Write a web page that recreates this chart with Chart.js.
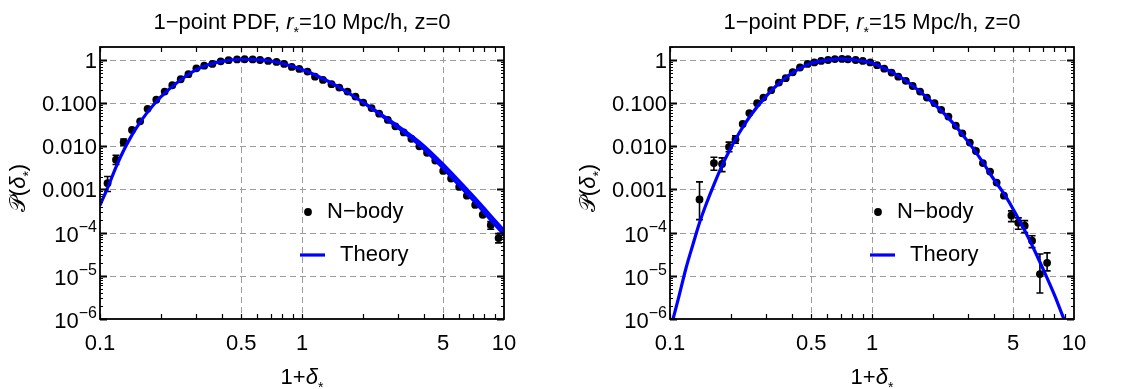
<!DOCTYPE html>
<html>
<head>
<meta charset="utf-8">
<script src="https://cdn.jsdelivr.net/npm/chart.js@4.4.0/dist/chart.umd.min.js"></script>
<style>
  body { margin: 0; background: #fff; }
  .row { display: flex; width: 1140px; height: 389px; }
  .cell { width: 570px; height: 389px; }
</style>
</head>
<body>
<div class="row">
  <div class="cell"><canvas id="pdf10" width="570" height="389"></canvas></div>
  <div class="cell"><canvas id="pdf15" width="570" height="389"></canvas></div>
</div>
<script>
// axes
const xTickVals = [0.1, 0.5, 1, 5, 10];
const xTickLabels = ['0.1', '0.5', '1', '5', '10'];
const yTickVals = [1e-6, 1e-5, 1e-4, 1e-3, 1e-2, 1e-1, 1];
const yTickLabels = [['10', '−6'], ['10', '−5'], ['10', '−4'], ['0.001'], ['0.010'], ['0.100'], ['1']];
const gridX = [0.5, 1, 5];
const gridY = [1e-5, 1e-4, 1e-3, 1e-2, 1e-1, 1];

// r* = 10 Mpc/h : N-body measurement
const nbX10 = [0.109, 0.120, 0.131, 0.144, 0.158, 0.172, 0.190, 0.209, 0.228, 0.251,
  0.274, 0.300, 0.328, 0.360, 0.396, 0.433, 0.477, 0.52, 0.57, 0.62,
  0.68, 0.748, 0.816, 0.89, 0.97, 1.065, 1.16, 1.27, 1.40, 1.53,
  1.68, 1.84, 2.01, 2.21, 2.41, 2.66, 2.90, 3.19, 3.48, 3.81,
  4.16, 4.57, 5.0, 5.47, 6.0, 6.55, 7.2, 7.85, 8.6, 9.4];
const nbY10 = [1.4e-3, 4.9e-3, 0.0125, 0.024, 0.038, 0.074, 0.12, 0.186, 0.26, 0.358,
  0.47, 0.64, 0.74, 0.81, 0.93, 0.99, 1.03, 1.04, 1.03, 1.0,
  0.95, 0.9, 0.81, 0.69, 0.62, 0.54, 0.41, 0.345, 0.275, 0.23,
  0.186, 0.142, 0.103, 0.077, 0.057, 0.041, 0.029, 0.021, 0.015, 0.010,
  0.0071, 0.0047, 0.0027, 0.0018, 0.00115, 0.00072, 0.00044, 0.00026, 0.00015, 0.000075];
// error bars [low, high], null where hidden by the marker
const nbErr10 = [[0.9e-3, 2.0e-3], [3.8e-3, 6.2e-3], [0.0105, 0.0148], null, null, null, null, null, null, null,
  null, null, null, null, null, null, null, null, null, null,
  null, null, null, null, null, null, null, null, null, null,
  null, null, null, null, null, null, null, null, null, null,
  null, null, null, null, null, null, null, null, [1.2e-4, 1.8e-4], [5.8e-5, 9.5e-5]];

// r* = 10 Mpc/h : theory
const thX10 = [0.1, 0.11, 0.12, 0.13, 0.14, 0.15, 0.17, 0.2, 0.25, 0.3,
  0.35, 0.4, 0.5, 0.6, 0.7, 0.8, 1.0, 1.2, 1.5, 2.0,
  2.5, 3.0, 4.0, 5.0, 6.0, 7.0, 8.0, 9.0, 10];
const thY10 = [4.3e-4, 1.2e-3, 3.3e-3, 7.5e-3, 0.0145, 0.025, 0.058, 0.14, 0.345, 0.6,
  0.8, 0.93, 1.04, 1.02, 0.95, 0.83, 0.6, 0.42, 0.245, 0.105,
  0.05, 0.0265, 0.0088, 0.0031, 0.00125, 0.00058, 0.00029, 0.000155, 0.00009];
const thBX10 = [2.0, 3.0, 4.0, 5.0, 6.0, 7.0, 8.0, 9.0, 10];
const thBY10 = [0.106, 0.029, 0.0104, 0.0038, 0.00156, 0.00072, 0.00036, 0.000193, 0.000112];

// r* = 15 Mpc/h : N-body measurement
const nbX15 = [0.140, 0.165, 0.181, 0.196, 0.211, 0.229, 0.247, 0.27, 0.29, 0.317,
  0.346, 0.374, 0.405, 0.44, 0.48, 0.518, 0.56, 0.606, 0.655, 0.71,
  0.76, 0.83, 0.90, 0.98, 1.06, 1.15, 1.25, 1.35, 1.47, 1.59,
  1.73, 1.87, 2.04, 2.20, 2.39, 2.60, 2.80, 3.05, 3.27, 3.54,
  3.84, 4.14, 4.5, 4.9, 5.3, 5.7, 6.2, 6.78, 7.36];
const nbY15 = [5.9e-4, 4.1e-3, 3.9e-3, 0.0097, 0.0145, 0.033, 0.059, 0.10, 0.135, 0.2,
  0.30, 0.38, 0.52, 0.67, 0.81, 0.88, 0.95, 1.0, 1.05, 1.06,
  1.04, 1.0, 0.95, 0.88, 0.76, 0.63, 0.51, 0.41, 0.33, 0.25,
  0.186, 0.135, 0.10, 0.07, 0.049, 0.03, 0.02, 0.0122, 0.0078, 0.0041,
  0.0026, 0.00145, 0.00072, 0.00025, 0.00017, 0.000145, 0.000065, 0.000011, 0.00002];
const nbErr15 = [[2.0e-4, 1.5e-3], [2.8e-3, 5.6e-3], [2.6e-3, 5.4e-3], [7.5e-3, 0.0125], [0.0118, 0.0175], null, null, null, null, null,
  null, null, null, null, null, null, null, null, null, null,
  null, null, null, null, null, null, null, null, null, null,
  null, null, null, null, null, null, null, null, null, null,
  null, null, null, [1.8e-4, 3.2e-4], [1.2e-4, 2.2e-4], [1.0e-4, 1.9e-4], [4.5e-5, 8.5e-5], [4e-6, 3.2e-5], [1.3e-5, 3.4e-5]];

// r* = 15 Mpc/h : theory
const thX15 = [0.1, 0.11, 0.12, 0.13, 0.14, 0.15, 0.165, 0.18, 0.2, 0.22,
  0.25, 0.3, 0.35, 0.4, 0.5, 0.6, 0.7, 0.8, 0.9, 1.0,
  1.2, 1.5, 2.0, 2.5, 3.0, 3.5, 4.0, 4.5, 5.0, 5.5,
  6.0, 6.5, 7.0, 8.0, 9.0, 9.5];
const thY15 = [5.4e-7, 2.95e-6, 1.5e-5, 5.4e-5, 1.7e-4, 4.2e-4, 1.3e-3, 3.4e-3, 9.2e-3, 0.0204,
  0.051, 0.147, 0.3, 0.49, 0.84, 0.99, 1.06, 1.02, 0.95, 0.85,
  0.58, 0.31, 0.102, 0.036, 0.0125, 0.0046, 0.00175, 0.0008, 0.00035, 0.000155,
  0.00007, 0.000032, 0.000015, 3.6e-6, 9e-7, 5.2e-7];

const FONT = '"Liberation Sans", Arial, sans-serif';
const BLUE = '#0000ff';

Chart.defaults.font.family = FONT;
Chart.defaults.color = '#000';

function pts(xs, ys) {
  return xs.map((x, i) => ({ x: x, y: ys[i] }));
}

// text with italic / subscript pieces
function richWidth(ctx, segs) {
  let w = 0;
  segs.forEach(s => {
    ctx.font = (s.it ? 'italic ' : '') + (s.size || 22) + 'px ' + FONT;
    w += ctx.measureText(s.t).width;
  });
  return w;
}
function drawRich(ctx, segs, x, y) {
  let cx = x - richWidth(ctx, segs) / 2;
  ctx.textAlign = 'left';
  ctx.textBaseline = 'alphabetic';
  segs.forEach(s => {
    ctx.font = (s.it ? 'italic ' : '') + (s.size || 22) + 'px ' + FONT;
    ctx.fillText(s.t, cx, y + (s.dy || 0));
    cx += ctx.measureText(s.t).width;
  });
}

function makePanel(id, rLabel, nbX, nbY, nbErr, theories) {
  const titleSegs = [{ t: '1−point PDF, ' }, { t: 'r', it: true }, { t: '*', size: 14, dy: 8 },
    { t: '=' + rLabel + ' Mpc/h, z=0' }];
  const xTitle = [{ t: '1+' }, { t: 'δ', it: true }, { t: '*', size: 14, dy: 8 }];
  const yTitle = [{ t: '𝒫' }, { t: '(' }, { t: 'δ', it: true }, { t: '*', size: 14, dy: 8 }, { t: ')' }];

  const decor = {
    id: 'decor',
    beforeDatasetsDraw(chart) {
      const { ctx, chartArea: a, scales: { x, y } } = chart;
      ctx.save();
      // dashed grid
      ctx.strokeStyle = '#9c9c9c';
      ctx.lineWidth = 1;
      ctx.setLineDash([6, 4]);
      ctx.beginPath();
      gridX.forEach(v => {
        const px = Math.round(x.getPixelForValue(v)) + 0.5;
        ctx.moveTo(px, a.top); ctx.lineTo(px, a.bottom);
      });
      gridY.forEach(v => {
        const py = Math.round(y.getPixelForValue(v)) + 0.5;
        ctx.moveTo(a.left, py); ctx.lineTo(a.right, py);
      });
      ctx.stroke();
      ctx.setLineDash([]);
      // error bars
      ctx.beginPath();
      ctx.rect(a.left, a.top, a.right - a.left, a.bottom - a.top);
      ctx.clip();
      ctx.strokeStyle = '#000';
      ctx.lineWidth = 1.6;
      ctx.beginPath();
      nbErr.forEach((e, i) => {
        if (!e) return;
        const px = x.getPixelForValue(nbX[i]);
        const lo = y.getPixelForValue(e[0]);
        const hi = y.getPixelForValue(e[1]);
        ctx.moveTo(px, lo); ctx.lineTo(px, hi);
        ctx.moveTo(px - 3.5, lo); ctx.lineTo(px + 3.5, lo);
        ctx.moveTo(px - 3.5, hi); ctx.lineTo(px + 3.5, hi);
      });
      ctx.stroke();
      ctx.restore();
    },
    afterDraw(chart) {
      const { ctx, chartArea: a, scales: { x, y } } = chart;
      ctx.save();
      ctx.strokeStyle = '#000';
      // tick marks, pointing inward on all four sides
      ctx.lineWidth = 1.2;
      ctx.beginPath();
      [0.1, 1].forEach(d => {
        for (let k = 1; k <= 9; k++) {
          const px = Math.round(x.getPixelForValue(d * k)) + 0.5;
          ctx.moveTo(px, a.bottom); ctx.lineTo(px, a.bottom - 5);
          ctx.moveTo(px, a.top); ctx.lineTo(px, a.top + 5);
        }
      });
      for (let e = -6; e <= 0; e++) {
        for (let k = 2; k <= 9; k++) {
          const v = k * Math.pow(10, e);
          if (v > 2) continue;
          const py = Math.round(y.getPixelForValue(v)) + 0.5;
          ctx.moveTo(a.left, py); ctx.lineTo(a.left + 3, py);
          ctx.moveTo(a.right, py); ctx.lineTo(a.right - 3, py);
        }
      }
      ctx.stroke();
      ctx.lineWidth = 2.2;
      ctx.beginPath();
      yTickVals.forEach(v => {
        const py = Math.round(y.getPixelForValue(v)) + 0.5;
        ctx.moveTo(a.left, py); ctx.lineTo(a.left + 7, py);
        ctx.moveTo(a.right, py); ctx.lineTo(a.right - 7, py);
      });
      ctx.stroke();
      // frame
      ctx.lineWidth = 1.8;
      ctx.strokeRect(a.left, a.top, a.right - a.left, a.bottom - a.top);

      // y tick labels (with exponents)
      ctx.fillStyle = '#000';
      ctx.textAlign = 'right';
      ctx.textBaseline = 'alphabetic';
      yTickVals.forEach((v, i) => {
        const py = y.getPixelForValue(v);
        const lab = yTickLabels[i];
        const right = a.left - 3;
        if (lab.length === 1) {
          ctx.font = '22px ' + FONT;
          ctx.fillText(lab[0], right, py + 8);
        } else {
          ctx.font = '16px ' + FONT;
          const we = ctx.measureText(lab[1]).width;
          ctx.fillText(lab[1], right, py - 1);
          ctx.font = '22px ' + FONT;
          ctx.fillText(lab[0], right - we, py + 9);
        }
      });

      // legend
      const lx = a.left;
      ctx.fillStyle = '#000';
      ctx.beginPath();
      ctx.arc(lx + 208, 212, 3.9, 0, Math.PI * 2);
      ctx.fill();
      ctx.strokeStyle = BLUE;
      ctx.lineWidth = 3.2;
      ctx.beginPath();
      ctx.moveTo(lx + 200, 255); ctx.lineTo(lx + 225, 255);
      ctx.stroke();
      ctx.font = '22px ' + FONT;
      ctx.textAlign = 'left';
      ctx.textBaseline = 'middle';
      ctx.fillText('N−body', lx + 227, 212);
      ctx.fillText('Theory', lx + 240, 255);

      // titles
      const cx = (a.left + a.right) / 2;
      drawRich(ctx, titleSegs, cx, 29);
      drawRich(ctx, xTitle, cx, 384);
      ctx.translate(25, (a.top + a.bottom) / 2 + 5);
      ctx.rotate(-Math.PI / 2);
      drawRich(ctx, yTitle, 0, 0);
      ctx.restore();
    }
  };

  const lines = theories.map(t => ({
    label: 'Theory',
    data: pts(t[0], t[1]),
    showLine: true,
    pointRadius: 0,
    borderColor: BLUE,
    borderWidth: 3.2,
    cubicInterpolationMode: 'monotone',
    fill: false
  }));

  return new Chart(document.getElementById(id), {
    type: 'scatter',
    data: {
      datasets: lines.concat([{
        label: 'N-body',
        data: pts(nbX, nbY),
        pointRadius: 3.9,
        pointBackgroundColor: '#000',
        pointBorderWidth: 0,
        showLine: false
      }])
    },
    options: {
      responsive: false,
      animation: false,
      devicePixelRatio: 1,
      events: [],
      layout: { padding: { top: 47, right: 66, bottom: 0, left: 0 } },
      plugins: { legend: { display: false }, tooltip: { enabled: false } },
      scales: {
        x: {
          type: 'logarithmic',
          min: 0.1,
          max: 10,
          grid: { display: false, drawTicks: false },
          border: { display: false },
          afterBuildTicks: s => { s.ticks = xTickVals.map(v => ({ value: v })); },
          afterFit: s => { s.height = 70; },
          ticks: {
            autoSkip: false,
            maxRotation: 0,
            padding: 12,
            font: { size: 22 },
            color: '#000',
            callback: (v, i) => xTickLabels[i]
          }
        },
        y: {
          type: 'logarithmic',
          min: 1e-6,
          max: 2,
          grid: { display: false, drawTicks: false },
          border: { display: false },
          ticks: { display: false },
          afterFit: s => { s.width = 100; }
        }
      }
    },
    plugins: [decor]
  });
}

makePanel('pdf10', '10', nbX10, nbY10, nbErr10, [[thX10, thY10], [thBX10, thBY10]]);
makePanel('pdf15', '15', nbX15, nbY15, nbErr15, [[thX15, thY15]]);
</script>
</body>
</html>
